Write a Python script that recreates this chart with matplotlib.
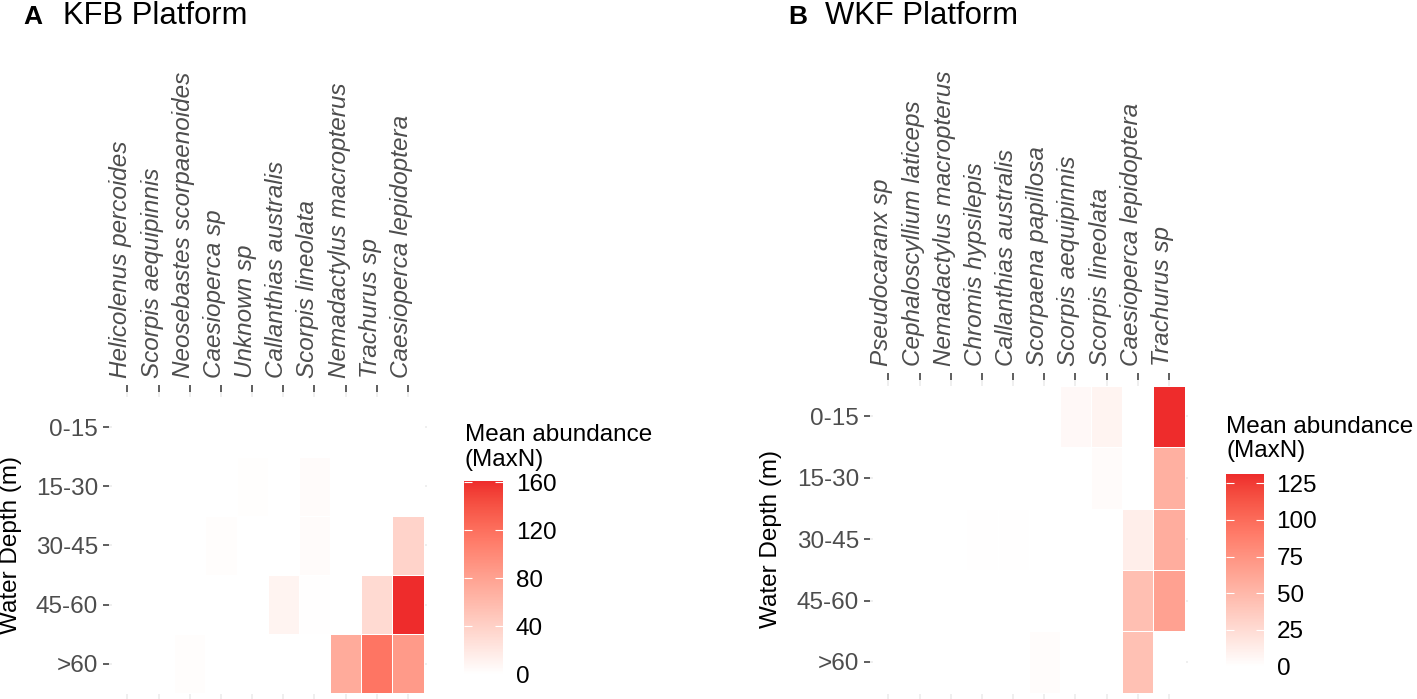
import numpy as np
import matplotlib
matplotlib.use("Agg")
import matplotlib.pyplot as plt
from matplotlib.colors import ListedColormap, Normalize

plt.rcParams['font.family'] = ['Liberation Sans', 'DejaVu Sans']

# ---------------- data ----------------
depths = ["0-15", "15-30", "30-45", "45-60", ">60"]

species_A = ["Helicolenus percoides", "Scorpis aequipinnis", "Neosebastes scorpaenoides",
             "Caesioperca sp", "Unknown sp", "Callanthias australis", "Scorpis lineolata",
             "Nemadactylus macropterus", "Trachurus sp", "Caesioperca lepidoptera"]
abund_A = [
    [0, 0, 0,   0,   0,   0,   0,   0,   0,   0],
    [0, 0, 0,   0,   1.5, 0,   4,   0,   0,   0],
    [0, 0, 0,   2.5, 0,   0,   4,   0,   0,   38],
    [0, 0, 0,   0,   0,   10,  1,   0,   32,  161],
    [0, 0, 2,   0,   0,   0,   0,   72,  116, 86],
]

species_B = ["Pseudocaranx sp", "Cephaloscyllium laticeps", "Nemadactylus macropterus",
             "Chromis hypsilepis", "Callanthias australis", "Scorpaena papillosa",
             "Scorpis aequipinnis", "Scorpis lineolata", "Caesioperca lepidoptera", "Trachurus sp"]
abund_B = [
    [0, 0, 0, 0, 0, 0,   5, 8, 0,  131],
    [0, 0, 0, 0, 0, 0,   0, 3, 0,  55],
    [0, 0, 0, 1, 1, 0,   0, 0, 12, 57],
    [0, 0, 0, 0, 0, 0,   0, 0, 45, 65],
    [0, 0, 0, 0, 0, 2.5, 0, 0, 44, 0],
]

cb_ticks_A = [0, 40, 80, 120, 160]
cb_ticks_B = [0, 25, 50, 75, 100, 125]

# ---------------- colour ramp (CIELAB like ggplot) ----------------
def _srgb2lin(c):
    c = np.asarray(c, float)
    return np.where(c <= 0.04045, c / 12.92, ((c + 0.055) / 1.055) ** 2.4)

def _lin2srgb(c):
    c = np.clip(c, 0, 1)
    return np.where(c <= 0.0031308, 12.92 * c, 1.055 * c ** (1 / 2.4) - 0.055)

_M = np.array([[0.4124564, 0.3575761, 0.1804375],
               [0.2126729, 0.7151522, 0.0721750],
               [0.0193339, 0.1191920, 0.9503041]])
_WP = np.array([0.95047, 1.0, 1.08883])

def rgb2lab(rgb):
    xyz = _M @ _srgb2lin(rgb) / _WP
    f = np.where(xyz > 0.008856, np.cbrt(xyz), 7.787 * xyz + 16 / 116)
    return np.array([116 * f[1] - 16, 500 * (f[0] - f[1]), 200 * (f[1] - f[2])])

def lab2rgb(lab):
    L, a, b = lab
    fy = (L + 16) / 116
    fx = fy + a / 500
    fz = fy - b / 200
    f = np.array([fx, fy, fz])
    xyz = np.where(f ** 3 > 0.008856, f ** 3, (f - 16 / 116) / 7.787) * _WP
    lin = np.linalg.solve(_M, xyz)
    return _lin2srgb(lin)

lo = rgb2lab(np.array([1.0, 1.0, 1.0]))
hi = rgb2lab(np.array([0xEE, 0x2C, 0x2C]) / 255)
cols = [lab2rgb(lo + t * (hi - lo)) for t in np.linspace(0, 1, 256)]
cmap = ListedColormap(np.clip(np.array(cols), 0, 1))

# ---------------- figure ----------------
W, H = 1417, 699
fig = plt.figure(figsize=(W / 100, H / 100), dpi=100)

FS = 17.5
TICK_C = '#4D4D4D'

def panel(rect, species, values, vmax, cax_rect, cb_ticks, ylab_x, title_letter,
          letter_x, title, title_x, leg_x, leg_y1, leg_y2):
    ax = fig.add_axes(rect)
    data = np.array(values, float)
    norm = Normalize(vmin=0, vmax=vmax)
    xe = np.arange(len(species) + 1) - 0.5
    ye = np.arange(len(depths) + 1) - 0.5
    mesh = ax.pcolormesh(xe, ye, data, cmap=cmap, norm=norm,
                         edgecolors='white', linewidth=0.7, zorder=1)
    ax.set_xlim(-0.6, len(species) - 0.4)
    ax.set_ylim(len(depths) - 0.4, -0.6)
    ax.set_xticks(np.arange(len(species)))
    ax.set_yticks(np.arange(len(depths)))
    ax.set_xticklabels(species, rotation=90, fontstyle='italic', fontsize=FS,
                       color=TICK_C, va='baseline', ha='left', rotation_mode='anchor')
    ax.set_yticklabels(depths, fontsize=FS, color=TICK_C)
    ax.xaxis.tick_top()
    ax.tick_params(axis='x', which='both', top=True, bottom=False, length=4.7,
                   width=1.1, color='#333333', pad=5)
    ax.tick_params(axis='y', length=4.5, width=1.1, color='#333333', pad=3)
    for s in ax.spines.values():
        s.set_visible(False)
    ax.set_axisbelow(True)
    ax.grid(True, color='#EBEBEB', linewidth=1.1)
    ax.set_facecolor('white')

    # y label
    fig.text(ylab_x / W, rect[1] + rect[3] / 2, "Water Depth (m)", rotation=90,
             ha='center', va='center', fontsize=FS, color='black')

    # colour bar
    cax = fig.add_axes(cax_rect)
    cb = fig.colorbar(mesh, cax=cax, ticks=cb_ticks)
    cb.outline.set_visible(False)
    cax.yaxis.set_ticks_position('both')
    cax.tick_params(axis='y', direction='in', length=5.6, width=0.8, color='white',
                    labelsize=FS, labelcolor='black', pad=9, left=True, right=True,
                    labelleft=False, labelright=True)
    fig.text(leg_x / W, 1 - leg_y1 / H, "Mean abundance", fontsize=FS, ha='left',
             va='baseline', color='black')
    fig.text(leg_x / W, 1 - leg_y2 / H, "(MaxN)", fontsize=FS, ha='left',
             va='baseline', color='black')

    # titles
    fig.text(letter_x / W, 1 - 24 / H, title_letter, fontsize=19, fontweight='bold',
             ha='left', va='baseline', color='black')
    fig.text(title_x / W, 1 - 24 / H, title, fontsize=22.3, ha='left',
             va='baseline', color='black')
    return ax

panel([108.6 / W, 1 - 699.4 / H, 318.2 / W, (699.4 - 391.5) / H],
      species_A, abund_A, 161,
      [464.3 / W, 1 - 674.3 / H, 39 / W, (674.3 - 481) / H], cb_ticks_A,
      11, "A", 23, "KFB Platform", 63, 465, 440.7, 466)

panel([869.6 / W, 1 - 698.8 / H, 318.2 / W, (698.8 - 379.6) / H],
      species_B, abund_B, 131,
      [1225.7 / W, 1 - 666.7 / H, 38.3 / W, (666.7 - 474.3) / H], cb_ticks_B,
      771, "B", 788, "WKF Platform", 825, 1226, 433.3, 457.5)

fig.savefig("out.png", dpi=100)
